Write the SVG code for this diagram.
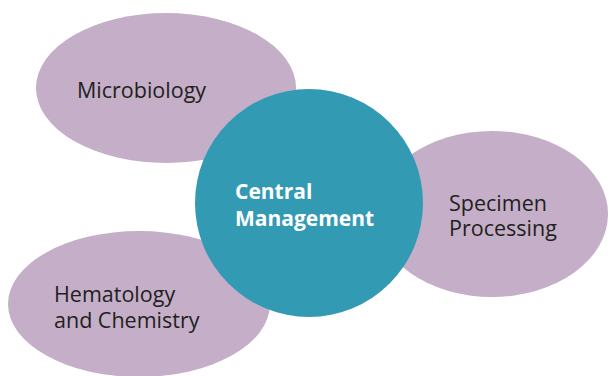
<svg xmlns="http://www.w3.org/2000/svg" width="608" height="376" viewBox="0 0 608 376">
<style>
.petal{fill:#c4aec8}
.hub{fill:#339ab4}
.lbl{font-family:"Open Sans","Liberation Sans",sans-serif;font-size:21.5px;fill:#231f20}
.hubl{font-family:"Open Sans","Liberation Sans",sans-serif;font-size:21px;font-weight:bold;fill:#ffffff}
</style>
<rect width="608" height="376" fill="#ffffff"/>
<g id="connectors"></g>
<g id="microbiology">
<ellipse class="petal" cx="166" cy="88" rx="130" ry="75"/>
<text class="lbl" x="77" y="98">Microbiology</text>
</g>
<g id="specimen-processing">
<ellipse class="petal" cx="492" cy="214" rx="116" ry="83"/>
<text class="lbl" x="449" y="211">Specimen</text>
<text class="lbl" x="449" y="236">Processing</text>
</g>
<g id="hematology-chemistry">
<ellipse class="petal" cx="139" cy="304" rx="131" ry="73"/>
<text class="lbl" x="54" y="302">Hematology</text>
<text class="lbl" x="54" y="328">and Chemistry</text>
</g>
<g id="central-management">
<circle class="hub" cx="309" cy="203" r="114"/>
<text class="hubl" x="235" y="199">Central</text>
<text class="hubl" x="235" y="226">Management</text>
</g>
</svg>
